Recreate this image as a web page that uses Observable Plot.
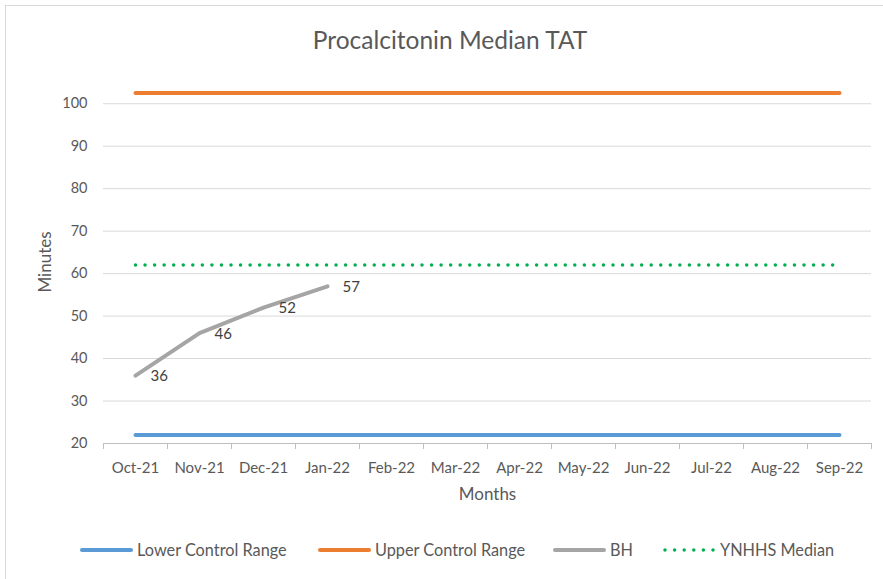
<!DOCTYPE html>
<html>
<head>
<meta charset="utf-8">
<script src="https://cdn.jsdelivr.net/npm/d3@7"></script>
<script src="https://cdn.jsdelivr.net/npm/@observablehq/plot@0.6"></script>
<style>
  html, body { margin: 0; padding: 0; background: #fff; }
  #wrap { position: relative; width: 883px; height: 579px; overflow: hidden; font-family: Lato, "Open Sans", sans-serif; color: #595959; }
  #frame { position: absolute; left: 5px; top: 5px; width: 900px; height: 600px; border: 1.5px solid #d9d9d9; box-sizing: border-box; }
  #title { position: absolute; left: 0; top: 25px; width: 900px; text-align: center; font-size: 24.5px; color: #595959; }
  #ylabel { position: absolute; left: 44px; top: 262px; transform: translate(-50%, -50%) rotate(-90deg); font-size: 17px; color: #595959; white-space: nowrap; }
  #chart { position: absolute; left: 0; top: 70px; }
  #legend { position: absolute; left: 0; top: 536px; }
</style>
</head>
<body>
<div id="wrap">
  <div id="frame"></div>
  <div id="title">Procalcitonin Median TAT</div>
  <div id="chart"></div>
  <div id="ylabel">Minutes</div>
  <div id="legend"></div>
</div>
<script>
const months = ["Oct-21","Nov-21","Dec-21","Jan-22","Feb-22","Mar-22","Apr-22","May-22","Jun-22","Jul-22","Aug-22","Sep-22"];
const lowerControl = [22,22,22,22,22,22,22,22,22,22,22,22];
const upperControl = [102.5,102.5,102.5,102.5,102.5,102.5,102.5,102.5,102.5,102.5,102.5,102.5];
const bhMonths = ["Oct-21","Nov-21","Dec-21","Jan-22"];
const bhValues = [36,46,52,57];
const ynhhsMedian = [62,62,62,62,62,62,62,62,62,62,62,62];
const yTicks = [20,30,40,50,60,70,80,90,100];
const seriesNames = ["Lower Control Range","Upper Control Range","BH","YNHHS Median"];
const seriesColors = ["#5b9bd5","#ed7d31","#a5a5a5","#00b050"];

const lower = months.map((m,i)=>({m, v: lowerControl[i]}));
const upper = months.map((m,i)=>({m, v: upperControl[i]}));
const ynhhs = months.map((m,i)=>({m, v: ynhhsMedian[i]}));
const bh = bhMonths.map((m,i)=>({m, v: bhValues[i]}));

const bw = (871 - 103) / months.length;

const chart = Plot.plot({
  width: 883,
  height: 450,
  marginLeft: 103,
  marginRight: 12,
  marginTop: 12,
  marginBottom: 77,
  style: { fontFamily: "Lato, 'Open Sans', sans-serif", fontSize: "14px", color: "#595959", background: "transparent" },
  x: { type: "band", domain: months, padding: 0, label: null, axis: null },
  y: { domain: [20, 105], axis: null },
  marks: [
    Plot.ruleY(yTicks.filter(t => t > 20), { stroke: "#d9d9d9", strokeWidth: 1 }),
    Plot.ruleY([20], { stroke: "#bfbfbf", strokeWidth: 1 }),
    Plot.ruleX(months, { x: d => d, y1: 20, y2: 20, dx: -bw/2, insetBottom: -6, stroke: "#bfbfbf" }),
    Plot.ruleX([months[months.length-1]], { x: d => d, y1: 20, y2: 20, dx: bw/2, insetBottom: -6, stroke: "#bfbfbf" }),
    Plot.text(yTicks, { y: d => d, frameAnchor: "left", dx: -16, textAnchor: "end", text: d => String(d), fill: "#595959", fontSize: 14.5 }),
    Plot.text(months, { x: d => d, y: 20, dy: 25, text: d => d, fill: "#595959", fontSize: 15 }),
    Plot.text(["Months"], { frameAnchor: "bottom", dy: 56, text: d => d, fill: "#595959", fontSize: 17 }),
    Plot.line(lower, { x: "m", y: "v", stroke: seriesColors[0], strokeWidth: 4, strokeLinecap: "round" }),
    Plot.line(upper, { x: "m", y: "v", stroke: seriesColors[1], strokeWidth: 4, strokeLinecap: "round" }),
    Plot.line(ynhhs, { x: "m", y: "v", stroke: seriesColors[3], strokeWidth: 3.5, strokeLinecap: "round", strokeDasharray: "0 9.55" }),
    Plot.line(bh, { x: "m", y: "v", stroke: seriesColors[2], strokeWidth: 4, strokeLinecap: "round", strokeLinejoin: "round" }),
    Plot.text(bh, { x: "m", y: "v", text: d => String(d.v), textAnchor: "start", dx: 15, dy: 1, fill: "#404040", fontSize: 15 })
  ]
});
document.getElementById("chart").appendChild(chart);

// Legend (SVG via d3)
const legendX = [80, 318, 553, 663];
const svg = d3.select("#legend").append("svg").attr("width", 883).attr("height", 30);
seriesNames.forEach((name, i) => {
  const g = svg.append("g");
  const x0 = legendX[i];
  const line = g.append("line").attr("x1", x0 + 2).attr("x2", x0 + 51).attr("y1", 14).attr("y2", 14)
    .attr("stroke", seriesColors[i]).attr("stroke-linecap", "round");
  if (i === 3) line.attr("stroke-width", 3.5).attr("stroke-dasharray", "0 9.6");
  else line.attr("stroke-width", 4);
  g.append("text").attr("x", x0 + 57).attr("y", 19.5).text(name)
    .attr("fill", "#595959").attr("font-size", 16.3).attr("font-family", "Lato, 'Open Sans', sans-serif");
});
</script>
</body>
</html>
